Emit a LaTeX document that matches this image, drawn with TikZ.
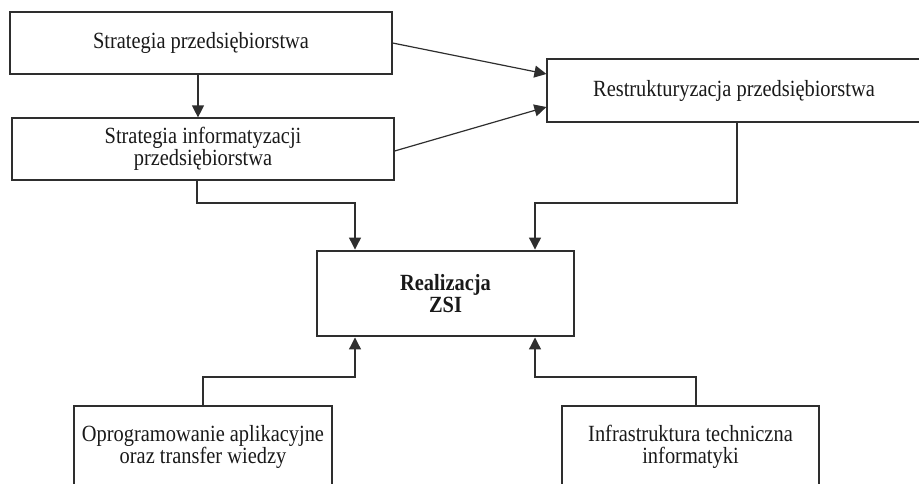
\documentclass[tikz,border=0pt]{standalone}
\usepackage{fontspec}
\setmainfont{Liberation Serif}[FakeStretch=0.88]
\usetikzlibrary{arrows.meta}
\definecolor{linecol}{gray}{0.18}
\newcommand\boxfont[1]{\fontsize{17.4}{#1}\selectfont}
\tikzset{
  box/.style={draw=linecol, line width=0.9pt, inner sep=0pt, align=center, font=\boxfont{16.2pt}, text=black!90},
  thickbox/.style={box, line width=2.2pt, font=\boxfont{16.5pt}\bfseries},
  arr/.style={draw=linecol, line width=0.9pt, -{Triangle[length=9pt,width=9pt]}},
  con/.style={draw=linecol, line width=0.9pt}
}
\begin{document}
\begin{tikzpicture}[x=0.75pt,y=-0.75pt]
\useasboundingbox (0,0) rectangle (919,483);
\node[box, minimum width=286.5pt, minimum height=46.5pt] (b1) at (201,43) {Strategia przedsiębiorstwa};
\node[box, minimum width=286.5pt, minimum height=46.5pt, font=\boxfont{13.2pt}] (b2) at (203,149) {Strategia informatyzacji\\przedsiębiorstwa};
\node[box, minimum width=280.5pt, minimum height=47.25pt] (b3) at (734,90.5) {Restrukturyzacja przedsiębiorstwa};
\node[thickbox, minimum width=192.75pt, minimum height=63.75pt] (zsi) at (445.5,293.5) {Realizacja\\ZSI};
\node[box, minimum width=193.5pt, minimum height=61.5pt] (b4) at (203,447) {Oprogramowanie aplikacyjne\\oraz transfer wiedzy};
\node[box, minimum width=192.75pt, minimum height=61.5pt] (b5) at (690.5,447) {Infrastruktura techniczna\\informatyki};
% helper coordinates
\coordinate (v1) at (198,0);
\coordinate (t1) at (0,74);
\coordinate (s1) at (0,151);
\coordinate (t2) at (0,107);
\coordinate (v2) at (197,0);
\coordinate (h1) at (0,203);
\coordinate (v3) at (355,0);
\coordinate (v4) at (737,0);
\coordinate (v5) at (535,0);
\coordinate (h2) at (0,377);
\coordinate (v6) at (203,0);
\coordinate (v7) at (696,0);
% connectors
\draw[arr] (b1.south -| v1) -- (b2.north -| v1);
\draw[arr] (b1.east) -- (b3.west |- t1);
\draw[arr] (b2.east |- s1) -- (b3.west |- t2);
\draw[arr] (b2.south -| v2) -- (v2 |- h1) -- (v3 |- h1) -- (zsi.north -| v3);
\draw[arr] (b3.south -| v4) -- (v4 |- h1) -- (v5 |- h1) -- (zsi.north -| v5);
\draw[arr] (b4.north -| v6) -- (v6 |- h2) -- (v3 |- h2) -- (zsi.south -| v3);
\draw[arr] (b5.north -| v7) -- (v7 |- h2) -- (v5 |- h2) -- (zsi.south -| v5);
\end{tikzpicture}
\end{document}
